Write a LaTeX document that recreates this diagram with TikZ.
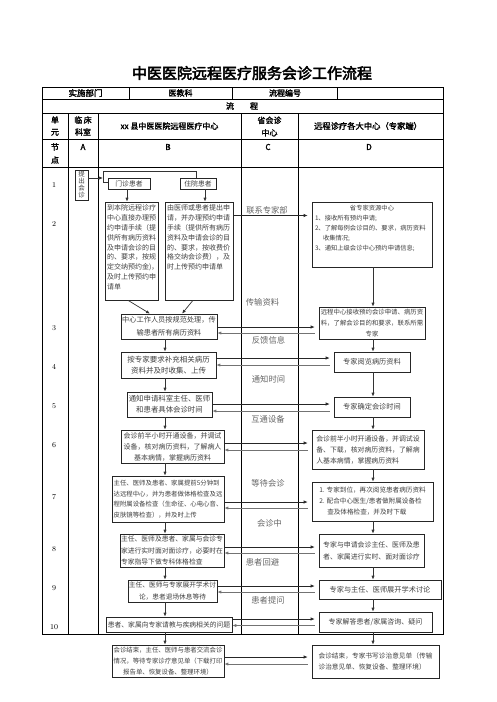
\documentclass[tikz,border=0pt]{standalone}
\usepackage{fontspec}
\newfontfamily\cjk{Noto Sans CJK SC}
\newfontfamily\cjkb[FakeBold=2]{Noto Sans CJK SC}
\newfontfamily\cjkt[FakeBold=3]{Noto Sans CJK SC}
\usetikzlibrary{arrows.meta}
\newcommand\tf[2]{\cjk\fontsize{#1pt}{#2pt}\selectfont}
\newcommand\hf[2]{\cjkb\fontsize{#1pt}{#2pt}\selectfont}
\tikzset{
  box/.style={draw=black!85, line width=0.6pt, inner sep=0pt, align=center, text=black!75},
  hdr/.style={inner sep=0pt, align=center, text=black},
  lab/.style={inner sep=0pt, text=black!60, font=\tf{8.3}{10}},
  num/.style={inner sep=0pt, font=\fontsize{7.5pt}{9pt}\selectfont},
  fwd/.style={line width=0.6pt, draw=black!85, -{Latex[length=4pt,width=3.2pt]}, shorten >=4pt},
  bwd/.style={line width=0.8pt, draw=black!55, -{Latex[length=4pt,width=3.2pt]}, shorten <=4pt},
  down/.style={line width=0.7pt, draw=black!80, -{Latex[length=4pt,width=3.2pt]}},
  conn/.style={line width=0.6pt, draw=black!80},
  grid/.style={line width=0.7pt, draw=black},
}
\begin{document}
\begin{tikzpicture}[x=1pt,y=-1pt]
\useasboundingbox (0,0) rectangle (496,702);
\fill[white] (0,0) rectangle (496,702);

% title
\node[hdr, font=\cjkt\fontsize{15pt}{17pt}\selectfont] (title) at (252,73) {中医医院远程医疗服务会诊工作流程};

% table frame
\draw[grid] (42,87) rectangle (443,634);
\draw[grid] (42,99) -- (443,99) (42,113) -- (443,113) (42,139) -- (443,139) (42,167) -- (443,167);
\draw[grid] (129,87) -- (129,99) (232,87) -- (232,99) (337,87) -- (337,99);
\draw[grid] (68,113) -- (68,634) (98,113) -- (98,634) (241,113) -- (241,634) (298,113) -- (298,634);

% header texts
\node[hdr, font=\hf{8.5}{10}] (h1) at (85.5,93) {实施部门};
\node[hdr, font=\hf{8}{10}] (h2) at (180.5,93) {医教科};
\node[hdr, font=\hf{8}{10}] (h3) at (285,93) {流程编号};
\node[hdr, font=\hf{8}{10}] (h4) at (242,106) {流\hspace{16pt}程};
\node[hdr, font=\hf{8}{12}] (u1) at (55,126) {单\\元};
\node[hdr, font=\hf{8}{12}] (u2) at (83,126) {临\,床\\科室};
\node[hdr, font=\hf{8}{10}] (u3) at (169.5,126) {xx 县中医医院远程医疗中心};
\node[hdr, font=\hf{8}{12.5}] (u4) at (269.5,126.5) {省会诊\\中心};
\node[hdr, font=\hf{8.3}{10}] (u5) at (368,126) {远程诊疗各大中心（专家端）};
\node[hdr, font=\hf{8}{13}] (n0) at (55,153.5) {节\\点};
\node[hdr, font=\hf{8}{10}] (nA) at (83,147) {A};
\node[hdr, font=\hf{8}{10}] (nB) at (168,147) {B};
\node[hdr, font=\hf{8}{10}] (nC) at (268,147) {C};
\node[hdr, font=\hf{8}{10}] (nD) at (369,147) {D};

% row numbers
\node[num] (r1) at (54,185) {1};
\node[num] (r2) at (54,224) {2};
\node[num] (r3) at (54,328) {3};
\node[num] (r4) at (54,367) {4};
\node[num] (r5) at (54,406) {5};
\node[num] (r6) at (54,445) {6};
\node[num] (r7) at (54,497) {7};
\node[num] (r8) at (54,549) {8};
\node[num] (r9) at (54,588) {9};
\node[num] (r10) at (54,627) {10};

% column C labels
\node[lab] (l1) at (267,210) {联系专家部};
\node[lab] (l2) at (262.5,302) {传输资料};
\node[lab] (l3) at (268.5,340) {反馈信息};
\node[lab] (l4) at (268.5,379) {通知时间};
\node[lab] (l5) at (268,419) {互通设备};
\node[lab] (l6) at (268,483) {等待会诊};
\node[lab] (l7) at (269.5,523) {会诊中};
\node[lab] (l8) at (262.5,562) {患者回避};
\node[lab] (l9) at (268,600) {患者提问};

% boxes
\node[box, minimum width=13pt, minimum height=30pt, font=\tf{6.5}{7}] (tc) at (81.5,185) {提\\出\\会\\诊};
\node[box, minimum width=42pt, minimum height=11pt, font=\tf{6.8}{8}] (mz) at (129,183.5) {门诊患者};
\node[box, minimum width=36pt, minimum height=11pt, font=\tf{6.8}{8}] (zy) at (198,183.5) {住院患者};

\node[box, minimum width=53pt, minimum height=98pt, font=\tf{7}{9.8}] (b2a) at (131.5,251)
 {\parbox[c][92pt][t]{49pt}{\raggedright 到本院远程诊疗\\中心直接办理预\\约申请手续（提\\供所有病历资料\\及申请会诊的目\\的、要求，按规\\定交纳预约金)，\\及时上传预约申\\请单}};
\node[box, minimum width=68pt, minimum height=98pt, font=\tf{7}{9.8}] (b2b) at (199,251)
 {\parbox[c][92pt][t]{64pt}{\raggedright 由医师或患者提出申\\请，并办理预约申请\\手续（提供所有病历\\资料及申请会诊的目\\的、要求，按收费价\\格交纳会诊费），及\\时上传预约申请单}};
\node[box, minimum width=120pt, minimum height=65pt, font=\tf{6.3}{10}] (d2) at (372,234.5)
 {\parbox[c][58pt][t]{114pt}{\centering 省专家资源中心\par\raggedright
 1、接收所有预约申请;\par
 2、了解每例会诊目的、要求，病历资料\par
 \hspace*{8pt}收集情况;\par
 3、通知上级会诊中心预约申请信息;}};

\node[box, minimum width=96pt, minimum height=25pt, font=\tf{7.2}{13}] (b3) at (169,326.5) {中心工作人员按规范处理，传\\输患者所有病历资料};
\node[box, minimum width=106pt, minimum height=32pt, font=\tf{6.4}{11}] (d3) at (372,323) {远程中心接收预约会诊申请、病历资\\料，了解会诊目的和要求，联系所需\\专家};
\node[box, minimum width=95pt, minimum height=26pt, font=\tf{7.5}{11}] (b4) at (168.5,365) {按专家要求补充相关病历\\资料并及时收集、上传};
\node[box, minimum width=76pt, minimum height=20pt, font=\tf{7.2}{9}] (d4) at (372,362) {专家阅览病历资料};
\node[box, minimum width=85pt, minimum height=25pt, font=\tf{7.4}{11}] (b5) at (169.5,404.5) {通知申请科室主任、医师\\和患者具体会诊时间};
\node[box, minimum width=76pt, minimum height=20pt, font=\tf{7.2}{9}] (d5) at (372,407) {专家确定会诊时间};
\node[box, minimum width=103pt, minimum height=33pt, font=\tf{7}{11}] (b6) at (172.5,446.5) {会诊前半小时开通设备，并调试\\设备，核对病历资料，了解病人\\基本病情，掌握病历资料};
\node[box, minimum width=112pt, minimum height=39pt, font=\tf{6.9}{11}, align=left] (d6) at (368,449.5) {会诊前半小时开通设备，并调试设\\备、下载，核对病历资料，了解病\\人基本病情，掌握病历资料};
\node[box, minimum width=112pt, minimum height=46pt, font=\tf{6.4}{10.7}, align=left] (b7) at (168,499) {主任、医师及患者、家属提前5分钟到\\达远程中心，并为患者做体格检查及远\\程附属设备检查（生命征、心电心音、\\皮肤镜等检查），并及时上传};
\node[box, minimum width=121pt, minimum height=39pt, font=\tf{6.6}{11}, align=left] (d7) at (372.5,501.5) {1. 专家到位，再次阅览患者病历资料\\2. 配合中心医生/患者做附属设备检\\\hspace*{8pt}查及体格检查，并及时下载};
\node[box, minimum width=104pt, minimum height=33pt, font=\tf{6.8}{11.5}, align=left] (b8) at (172,550.5) {主任、医师及患者、家属与会诊专\\家进行实时面对面诊疗，必要时在\\专家指导下做专科体格检查};
\node[box, minimum width=105pt, minimum height=33pt, font=\tf{6.9}{12}] (d8) at (371.5,550.5) {专家与申请会诊主任、医师及患\\者、家属进行实时、面对面诊疗};
\node[box, minimum width=89pt, minimum height=22pt, font=\tf{6.7}{12}] (b9) at (172.5,591) {主任、医师与专家展开学术讨\\论，患者退场休息等待};
\node[box, minimum width=122pt, minimum height=19pt, font=\tf{7.2}{9}] (d9) at (380,589.5) {专家与主任、医师展开学术讨论};
\node[box, minimum width=126pt, minimum height=15pt, font=\tf{6.8}{9}] (b10) at (169,624.5) {患者、家属向专家请教与疾病相关的问题};
\node[box, minimum width=113pt, minimum height=20pt, font=\tf{7}{9}] (d10) at (375.5,622) {专家解答患者/家属咨询、疑问};
\node[box, minimum width=112pt, minimum height=32pt, font=\tf{6.4}{11}] (b11) at (168,661) {会诊结束，主任、医师与患者交流会诊\\情况，等待专家诊疗意见单（下载打印\\报告单、恢复设备、整理环境）};
\node[box, minimum width=127pt, minimum height=33pt, font=\tf{6.7}{10.5}, align=left] (d11) at (375.5,661.5) {会诊结束，专家书写诊治意见单（传输\\诊治意见单、恢复设备、整理环境）};

% helper coordinates
\coordinate (bx) at (165,0);
\coordinate (dx) at (373,0);
\coordinate (jn) at (103,178);
\coordinate (jt) at (103,171);

% start connectors
\draw[down] (tc.east |- jn) -- (jn);
\draw[conn] (mz.west |- 0,182) -| (jt) -| (zy.north -| 196,0);
\draw[down] (mz.south -| 127,0) -- (b2a.north -| 127,0);
\draw[down] (zy.south -| 205,0) -- (b2b.north -| 205,0);
\draw[down] (b2a.south -| 128,0) -- (b3.north -| 150,0);
\draw[down] (b2b.south -| 193,0) -- (b3.north -| 182,0);
\draw[fwd] (b2b.east |- 0,215.5) -- (d2.west |- 0,215.5);

% vertical flow B
\foreach \a/\b in {b3/b4,b4/b5,b5/b6,b6/b7,b7/b8,b8/b9,b9/b10,b10/b11}
  \draw[down] (\a.south -| bx) -- (\b.north -| bx);
% vertical flow D
\foreach \a/\b in {d2/d3,d3/d4,d4/d5,d5/d6,d6/d7,d7/d8,d8/d9,d9/d10,d10/d11}
  \draw[down] (\a.south -| dx) -- (\b.north -| dx);

% horizontal exchanges
\foreach \a/\b/\u/\l in {b3/d3/327/333, b4/d4/358/365, b5/d5/404/411, b6/d6/443/450, b7/d7/502/508, b8/d8/547/553, b9/d9/586/592, b10/d10/619/625.5, b11/d11/657/664}{
  \draw[fwd] (\a.east |- 0,\u) -- (\b.west |- 0,\u);
  \draw[bwd] (\b.west |- 0,\l) -- (\a.east |- 0,\l);
}
\end{tikzpicture}
\end{document}
